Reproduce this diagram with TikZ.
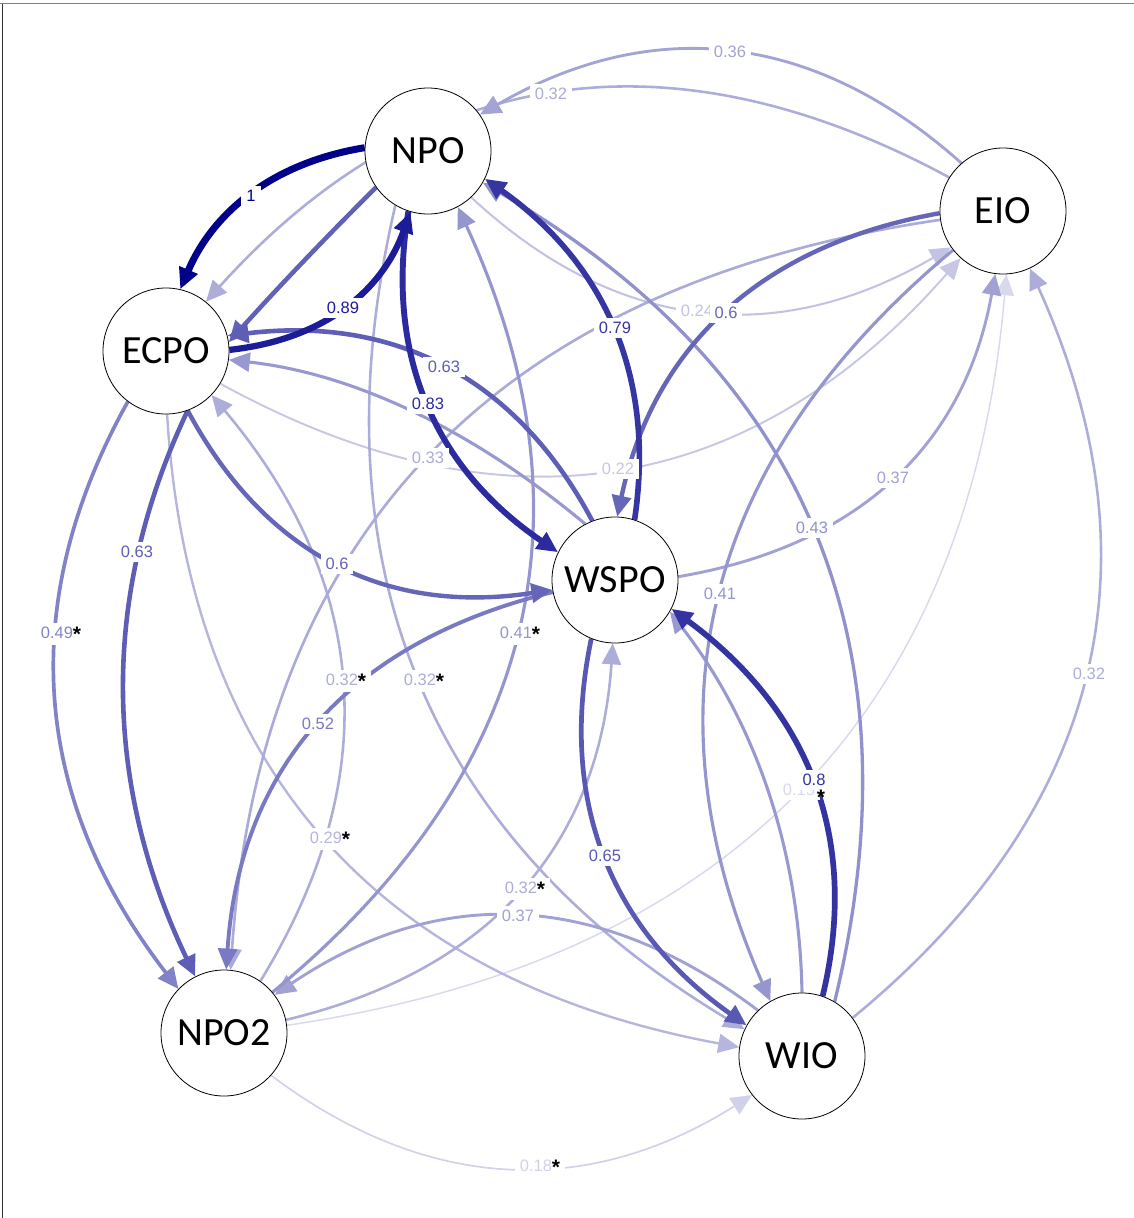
\documentclass[tikz,border=0pt]{standalone}
\usepackage{fontspec}
\usetikzlibrary{calc, arrows.meta, backgrounds}
\newfontfamily\lblfont{Liberation Sans}
\newfontfamily\ndfont{Carlito}
\definecolor{qnavy}{RGB}{0,0,139}
\newcommand{\sig}{\textcolor{black}{\raisebox{-3pt}{\fontsize{21}{21}\selectfont\bfseries *}}}

\begin{document}
\begin{tikzpicture}[x=1pt, y=-1pt,
  nd/.style={circle, draw=black, line width=0.8pt, fill=white, minimum size=126pt, inner sep=0pt, font=\ndfont\fontsize{40}{48}\selectfont},
  link/.style={line width=0.5pt+0.065pt*#1, draw=qnavy!#1!white, -{Triangle[length=21pt, width=19pt]}},
  lbl/.style={text=qnavy!#1!white, fill=white, inner xsep=5pt, inner ysep=4pt, font=\lblfont\fontsize{16.5}{19}\selectfont}]
\useasboundingbox (0,0) rectangle (1134,1218);
\draw[line width=1.3pt, black!50] (0,3.5) -- (1134,3.5);
\draw[line width=1pt, black!80] (2.5,3.5) -- (2.5,1218);

\node[nd] (npo) at (428,151) {NPO};
\node[nd] (eio) at (1003,211) {EIO};
\node[nd] (ecpo) at (166,351) {ECPO};
\node[nd] (wspo) at (615,580) {WSPO};
\node[nd] (npo2) at (224,1033) {NPO2};
\node[nd] (wio) at (802,1056) {WIO};

\begin{pgfonlayer}{background}
% from/angle/to/angle/mid x/mid y/weight
\foreach \src/\sang/\dst/\dang/\mx/\my/\w in {
  npo2/7/eio/273/799/789/15, npo2/318/wio/218/508/1168/18,
  ecpo/329/eio/228/618/469/22, npo/313/eio/215/700/311/24,
  ecpo/271/wio/172/326/839/29, eio/148/ecpo/51/551/94/32,
  npo2/55/ecpo/316/342/682/32, npo/239/wio/155/420/681/32,
  npo2/12/wspo/268/521/889/32, wio/37/eio/295/1085/676/32,
  eio/188/npo2/84/430/456/33, eio/131/npo/35/730/52/36,
  wspo/3/eio/263/893/478/37, wio/134/npo2/37/518/916/37,
  wspo/118/ecpo/352/410/411/40, wio/90/wspo/330/767/790/40,
  npo2/40/npo/298/517/633/41, eio/218/wio/120/720/594/41,
  wio/59/npo/330/812/528/43, ecpo/233/npo2/136/56/700/49,
  wspo/191/npo2/88/318/724/52, ecpo/290/wspo/189/337/564/60,
  eio/182/wspo/88/725/313/60, npo/215/ecpo/8/302/263/62,
  wspo/111/ecpo/14/444/367/63, ecpo/290/npo2/117/124/690/63,
  wspo/248/wio/151/605/856/65, wspo/72/npo/334/613/328/79,
  wio/71/wspo/333/813/782/80, npo/252/wspo/154/428/404/83,
  ecpo/1/npo/254/343/308/89, npo/177/ecpo/77/252/194/100}
  \draw[link=\w] (\src.\sang) .. controls ($1.3333*(\mx,\my)-0.3333*(\dst.\dang)$)
    and ($1.3333*(\mx,\my)-0.3333*(\src.\sang)$) .. (\dst.\dang);
\foreach \lx/\ly/\w/\txt in {
  799/790/15/0.15, 540/1167/18/0.18\sig, 618/469/22/0.22, 697/311/24/0.24,
  330/839/29/0.29\sig, 551/94/32/0.32, 346/681/32/0.32\sig, 424/681/32/0.32\sig,
  525/889/32/0.32\sig, 1089/674/32/0.32, 428/458/33/0.33, 730/52/36/0.36,
  893/478/37/0.37, 518/916/37/0.37, 520/634/41/0.41\sig, 720/594/41/0.41,
  812/528/43/0.43, 61/634/49/0.49\sig, 318/724/52/0.52, 337/564/60/0.6,
  726/313/60/0.6, 444/367/63/0.63, 137/552/63/0.63, 605/856/65/0.65,
  615/328/79/0.79, 814/780/80/0.8, 428/404/83/0.83, 343/308/89/0.89,
  251/196/100/1}
  \node[lbl=\w] at (\lx,\ly) {\txt};
\node[inner sep=0pt, font=\lblfont\fontsize{16.5}{19}\selectfont] (star) at (821,797) {\sig};
\end{pgfonlayer}
\end{tikzpicture}
\end{document}
